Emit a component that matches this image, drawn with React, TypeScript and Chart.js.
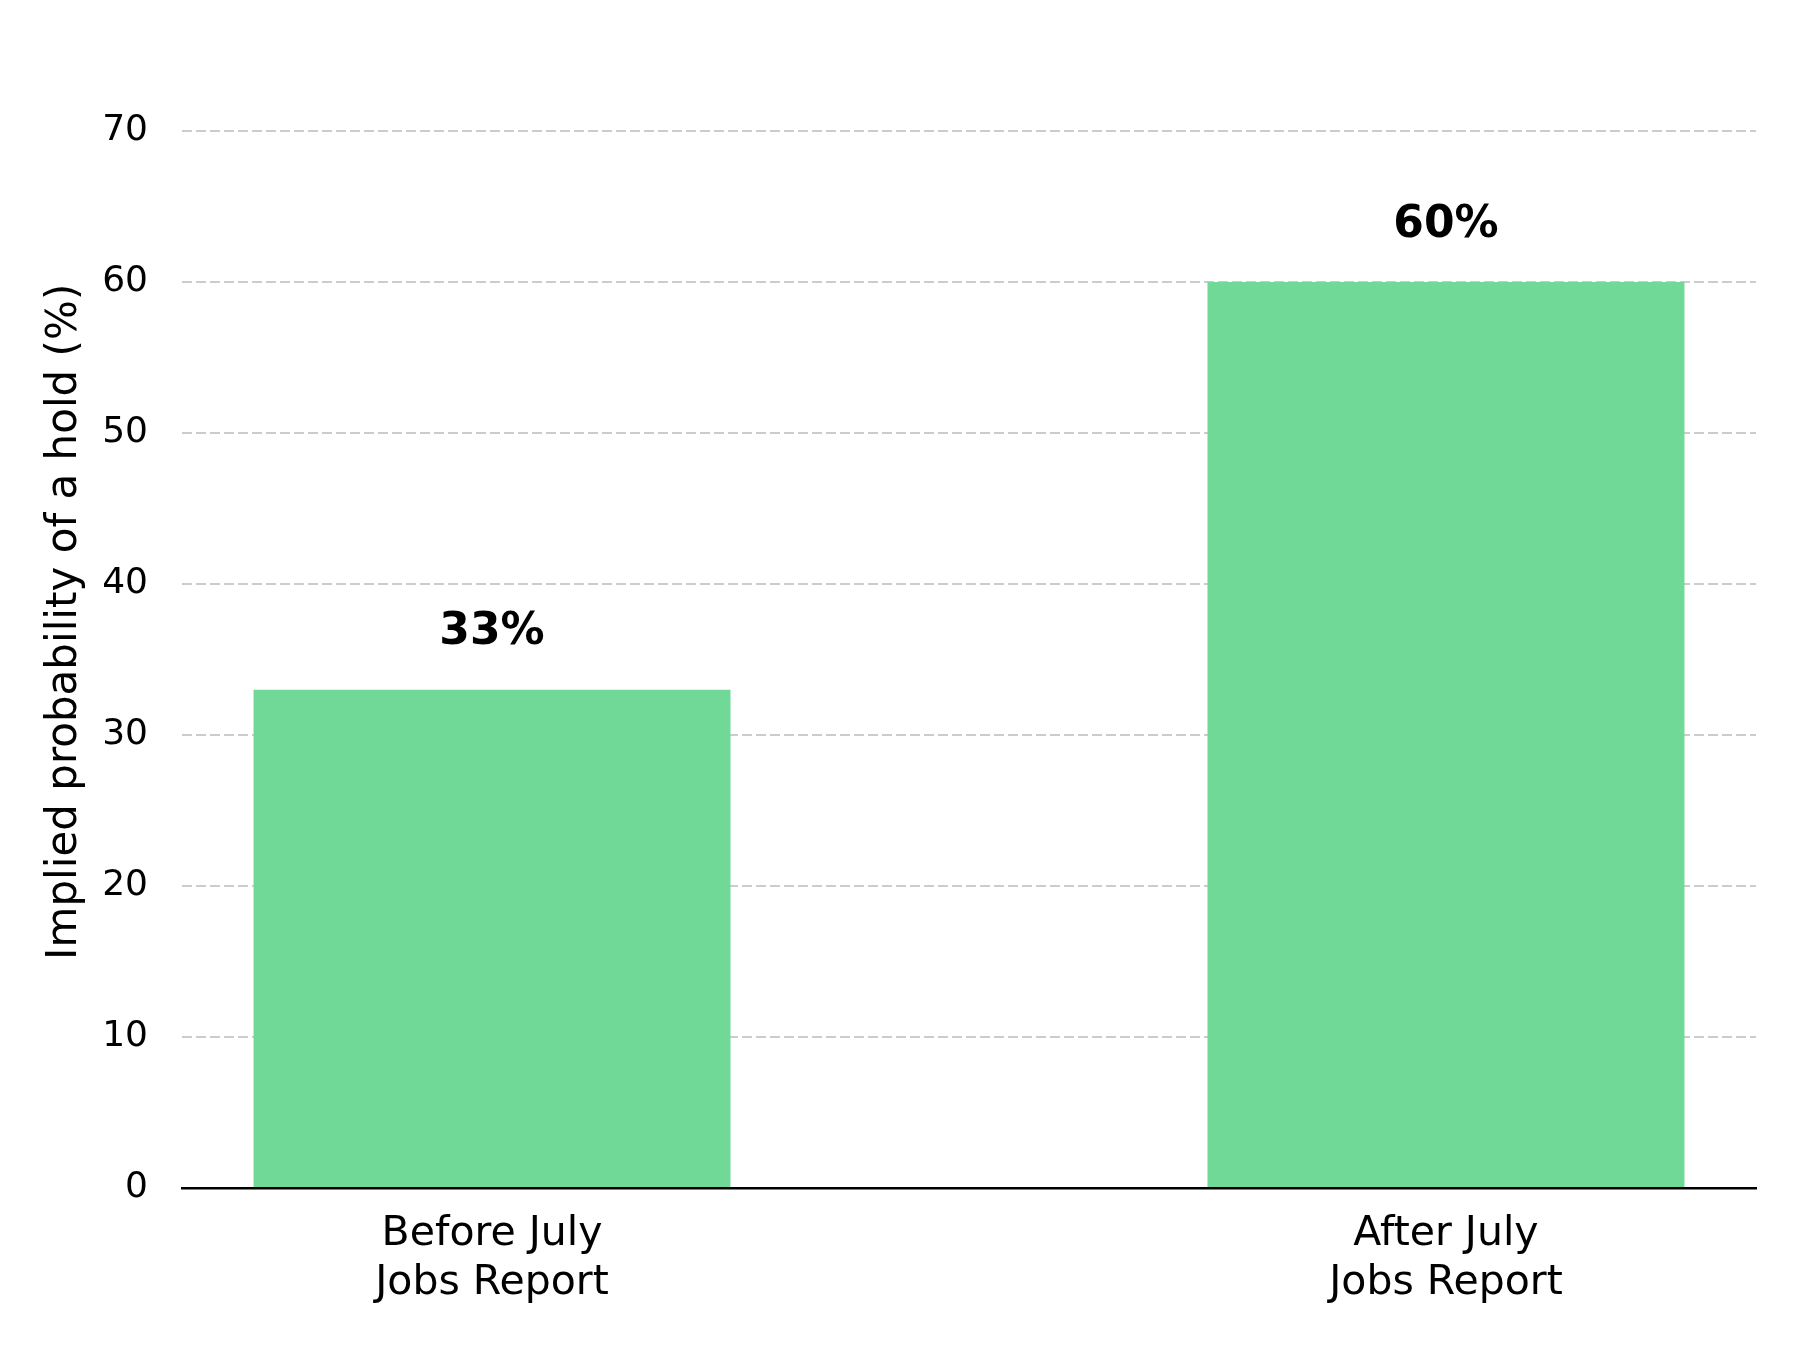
import React, { useEffect, useRef } from "react";
import { Chart, registerables } from "chart.js";

Chart.register(...registerables);

const categories = [
  ["Before July", "Jobs Report"],
  ["After July", "Jobs Report"],
];
const holdProbability = [33, 60];
const yTicks = [0, 10, 20, 30, 40, 50, 60, 70];

const barLabels = {
  id: "barLabels",
  afterDatasetsDraw(chart: Chart) {
    const { ctx } = chart;
    const meta = chart.getDatasetMeta(0);
    ctx.save();
    ctx.font = "bold 44px 'DejaVu Sans'";
    ctx.fillStyle = "#000000";
    ctx.textAlign = "center";
    ctx.textBaseline = "middle";
    meta.data.forEach((bar: any, i: number) => {
      ctx.fillText(`${holdProbability[i]}%`, bar.x, bar.y - 57);
    });
    ctx.restore();
  },
};

const App = () => {
  const canvasRef = useRef<HTMLCanvasElement | null>(null);

  useEffect(() => {
    if (!canvasRef.current) return;
    document.body.style.margin = "0";

    const chart = new Chart(canvasRef.current, {
      type: "bar",
      data: {
        datasets: [
          {
            data: holdProbability.map((v, i) => ({ x: i, y: v })),
            backgroundColor: "#70D997",
            borderWidth: 0,
            categoryPercentage: 1,
            barPercentage: 0.5,
          },
        ],
      },
      plugins: [barLabels],
      options: {
        animation: false,
        responsive: false,
        maintainAspectRatio: false,
        devicePixelRatio: 1,
        layout: { padding: { top: 44, right: 44, left: 0, bottom: 0 } },
        plugins: {
          legend: { display: false },
          tooltip: { enabled: false },
        },
        scales: {
          x: {
            type: "linear",
            offset: false,
            min: -0.325,
            max: 1.325,
            afterBuildTicks: (scale: any) => {
              scale.ticks = categories.map((_, i) => ({ value: i }));
            },
            afterFit: (scale: any) => {
              scale.height = 162;
            },
            grid: { display: false, drawTicks: false, offset: false },
            border: { display: true, color: "#000000", width: 2.5 },
            ticks: {
              padding: 22,
              color: "#000000",
              font: { size: 41, family: "'DejaVu Sans'" },
              maxRotation: 0,
              autoSkip: false,
              callback: (value: any) => categories[Math.round(value)] ?? "",
            },
          },
          y: {
            min: 0,
            max: 75,
            afterBuildTicks: (scale: any) => {
              scale.ticks = yTicks.map((v) => ({ value: v }));
            },
            afterFit: (scale: any) => {
              scale.width = 182;
            },
            grid: {
              color: "#cccccc",
              lineWidth: 2,
              drawTicks: false,
            },
            border: { display: false, dash: [10, 4] },
            ticks: {
              padding: 34,
              color: "#000000",
              font: { size: 36, family: "'DejaVu Sans'" },
            },
            title: {
              display: true,
              text: "Implied probability of a hold (%)",
              color: "#000000",
              font: { size: 42, family: "'DejaVu Sans'" },
              padding: { top: 40, bottom: 0 },
            },
          },
        },
      },
    });

    return () => {
      chart.destroy();
    };
  }, []);

  return (
    <div style={{ width: 1800, height: 1350, background: "#ffffff" }}>
      <canvas
        ref={canvasRef}
        width={1800}
        height={1350}
        style={{ display: "block", width: 1800, height: 1350 }}
      />
    </div>
  );
};

export default App;
